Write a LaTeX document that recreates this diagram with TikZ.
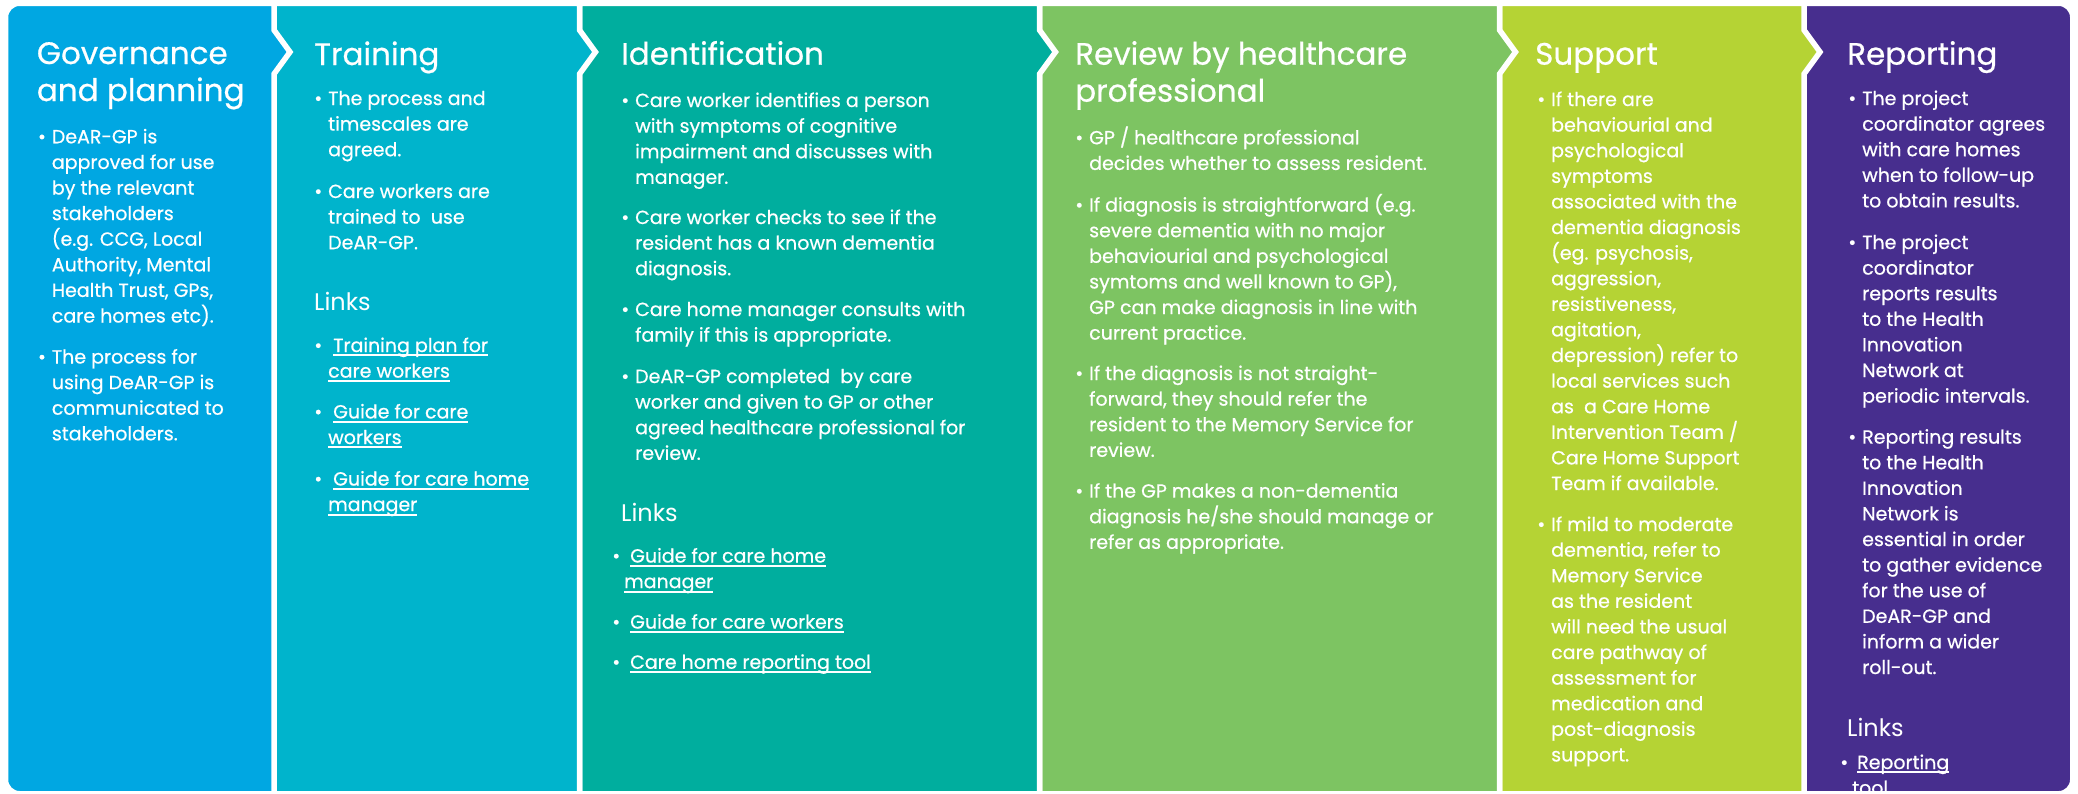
\documentclass[tikz,border=0pt]{standalone}
\usepackage{fontspec}
\setmainfont{Poppins}[FakeBold=0.6]
\newfontfamily\plainf{Poppins}
\definecolor{c1}{RGB}{0,167,226}
\definecolor{c2}{RGB}{0,180,204}
\definecolor{c3}{RGB}{0,174,158}
\definecolor{c4}{RGB}{125,196,98}
\definecolor{c5}{RGB}{181,211,52}
\definecolor{c6}{RGB}{71,46,142}
\newcommand\xl[1]{\hbox{#1}}
\newcommand\xb{\llap{\textbullet\kern6pt}}
\newcommand\ulk[1]{\setbox0=\hbox{#1}\rlap{\vrule width\wd0 height -2.4pt depth 4.4pt}\box0}
\newcommand\blk[1]{\vtop{\lineskiplimit=-1000pt\lineskip=0pt #1}}
\tikzset{
  panel/.style={draw=white, line width=5.5pt, line join=miter},
  body/.style={anchor=base west, inner sep=0pt, text=white, font=\fontsize{19}{25.6}\selectfont},
  ttl/.style={anchor=base west, inner sep=0pt, text=white, font=\fontsize{31}{37}\selectfont},
  lnk/.style={anchor=base west, inner sep=0pt, text=white, font=\plainf\fontsize{24}{24}\selectfont}
}
\begin{document}
\begin{tikzpicture}[x=1pt,y=1pt]
\useasboundingbox (0,0) rectangle (2078,-793);
\fill[white] (0,0) rectangle (2078,-793);
% panels, right to left so each chevron overlays the next panel
\path[panel, fill=c6] (1804,-3.25) -- (2058.75,-3.25) arc[start angle=90,end angle=0,radius=14] -- (2072.75,-779.75) arc[start angle=0,end angle=-90,radius=14] -- (1804,-793.75) -- cycle;
\path[panel, fill=c5] (1499.5,-3.25) -- (1804,-3.25) -- (1804,-30) -- (1820,-52) -- (1804,-74) -- (1804,-793.75) -- (1499.5,-793.75) -- cycle;
\path[panel, fill=c4] (1039.5,-3.25) -- (1499.5,-3.25) -- (1499.5,-30) -- (1515.5,-52) -- (1499.5,-74) -- (1499.5,-793.75) -- (1039.5,-793.75) -- cycle;
\path[panel, fill=c3] (579.5,-3.25) -- (1039.5,-3.25) -- (1039.5,-30) -- (1055.5,-52) -- (1039.5,-74) -- (1039.5,-793.75) -- (579.5,-793.75) -- cycle;
\path[panel, fill=c2] (274,-3.25) -- (579.5,-3.25) -- (579.5,-30) -- (595.5,-52) -- (579.5,-74) -- (579.5,-793.75) -- (274,-793.75) -- cycle;
\path[panel, fill=c1] (274,-3.25) -- (19.5,-3.25) arc[start angle=90,end angle=180,radius=14] -- (5.5,-779.75) arc[start angle=180,end angle=270,radius=14] -- (274,-793.75) -- (274,-74) -- (290,-52) -- (274,-30) -- cycle;

% Panel 1
\node[ttl] (t1) at (36.7,-64) {\blk{\xl{Governance}\xl{and planning}}};
\node[body] (p1a) at (51.7,-143.3) {\blk{\xl{\xb DeAR-GP is}\xl{approved for use}\xl{by the relevant}\xl{stakeholders}\xl{(e.g. CCG, Local}\xl{Authority, Mental}\xl{Health Trust, GPs,}\xl{care homes etc).}}};
\node[body] (p1b) at (51.7,-363.5) {\blk{\xl{\xb The process for}\xl{using DeAR-GP is}\xl{communicated to}\xl{stakeholders.}}};

% Panel 2
\node[ttl] (t2) at (314,-65) {Training};
\node[body] (p2a) at (328,-105) {\blk{\xl{\xb The process and}\xl{timescales are}\xl{agreed.}}};
\node[body] (p2b) at (328,-198) {\blk{\xl{\xb Care workers are}\xl{trained to\ \ use}\xl{DeAR-GP.}}};
\node[lnk] (k2) at (314,-310) {Links};
\node[body] (p2l1) at (328,-352) {\blk{\xl{\xb\kern5pt\ulk{Training plan for}}\xl{\ulk{care workers}}}};
\node[body] (p2l2) at (328,-418.4) {\blk{\xl{\xb\kern5pt\ulk{Guide for care}}\xl{\ulk{workers}}}};
\node[body] (p2l3) at (328,-485.5) {\blk{\xl{\xb\kern5pt\ulk{Guide for care home}}\xl{\ulk{manager}}}};

% Panel 3
\node[ttl] (t3) at (621,-64.7) {Identification};
\node[body] (p3a) at (635,-107) {\blk{\xl{\xb Care worker identifies a person}\xl{with symptoms of cognitive}\xl{impairment and discusses with}\xl{manager.}}};
\node[body] (p3b) at (635,-224) {\blk{\xl{\xb Care worker checks to see if the}\xl{resident has a known dementia}\xl{diagnosis.}}};
\node[body] (p3c) at (635,-316) {\blk{\xl{\xb Care home manager consults with}\xl{family if this is appropriate.}}};
\node[body] (p3d) at (635,-383) {\blk{\xl{\xb DeAR-GP completed\ \ by care}\xl{worker and given to GP or other}\xl{agreed healthcare professional for}\xl{review.}}};
\node[lnk] (k3) at (621,-521) {Links};
\node[body] (p3l1) at (624,-562.5) {\blk{\xl{\llap{\textbullet\kern4pt}\kern6pt\ulk{Guide for care home}}\xl{\ulk{manager}}}};
\node[body] (p3l2) at (624,-628.6) {\blk{\xl{\llap{\textbullet\kern4pt}\kern6pt\ulk{Guide for care workers}}}};
\node[body] (p3l3) at (624,-668.75) {\blk{\xl{\llap{\textbullet\kern4pt}\kern6pt\ulk{Care home reporting tool}}}};

% Panel 4
\node[ttl] (t4) at (1075,-64.7) {\blk{\xl{Review by healthcare}\xl{professional}}};
\node[body] (p4a) at (1089,-144.3) {\blk{\xl{\xb GP / healthcare professional}\xl{decides whether to assess resident.}}};
\node[body] (p4b) at (1089,-211.6) {\blk{\xl{\xb If diagnosis is straightforward (e.g.}\xl{severe dementia with no major}\xl{behaviourial and psychological}\xl{symtoms and well known to GP),}\xl{GP can make diagnosis in line with}\xl{current practice.}}};
\node[body] (p4c) at (1089,-380) {\blk{\xl{\xb If the diagnosis is not straight-}\xl{forward, they should refer the}\xl{resident to the Memory Service for}\xl{review.}}};
\node[body] (p4d) at (1089,-497.6) {\blk{\xl{\xb If the GP makes a non-dementia}\xl{diagnosis he/she should manage or}\xl{refer as appropriate.}}};

% Panel 5
\node[ttl] (t5) at (1535,-64.7) {Support};
\node[body] (p5a) at (1551,-106) {\blk{\xl{\xb If there are}\xl{behaviourial and}\xl{psychological}\xl{symptoms}\xl{associated with the}\xl{dementia diagnosis}\xl{(eg. psychosis,}\xl{aggression,}\xl{resistiveness,}\xl{agitation,}\xl{depression) refer to}\xl{local services such}\xl{as\ \ a Care Home}\xl{Intervention Team /}\xl{Care Home Support}\xl{Team if available.}}};
\node[body] (p5b) at (1551,-531) {\blk{\xl{\xb If mild to moderate}\xl{dementia, refer to}\xl{Memory Service}\xl{as the resident}\xl{will need the usual}\xl{care pathway of}\xl{assessment for}\xl{medication and}\xl{post-diagnosis}\xl{support.}}};

% Panel 6
\node[ttl] (t6) at (1847,-64.7) {Reporting};
\node[body] (p6a) at (1862,-105) {\blk{\xl{\xb The project}\xl{coordinator agrees}\xl{with care homes}\xl{when to follow-up}\xl{to obtain results.}}};
\node[body] (p6b) at (1862,-249) {\blk{\xl{\xb The project}\xl{coordinator}\xl{reports results}\xl{to the Health}\xl{Innovation}\xl{Network at}\xl{periodic intervals.}}};
\node[body] (p6c) at (1862,-443.6) {\blk{\xl{\xb Reporting results}\xl{to the Health}\xl{Innovation}\xl{Network is}\xl{essential in order}\xl{to gather evidence}\xl{for the use of}\xl{DeAR-GP and}\xl{inform a wider}\xl{roll-out.}}};
\node[lnk] (k6) at (1847,-736) {Links};
\node[body] (p6l1) at (1852,-769) {\blk{\xl{\llap{\textbullet\kern4pt}\kern5pt\ulk{Reporting}}\xl{\ulk{tool}}}};
\end{tikzpicture}
\end{document}
